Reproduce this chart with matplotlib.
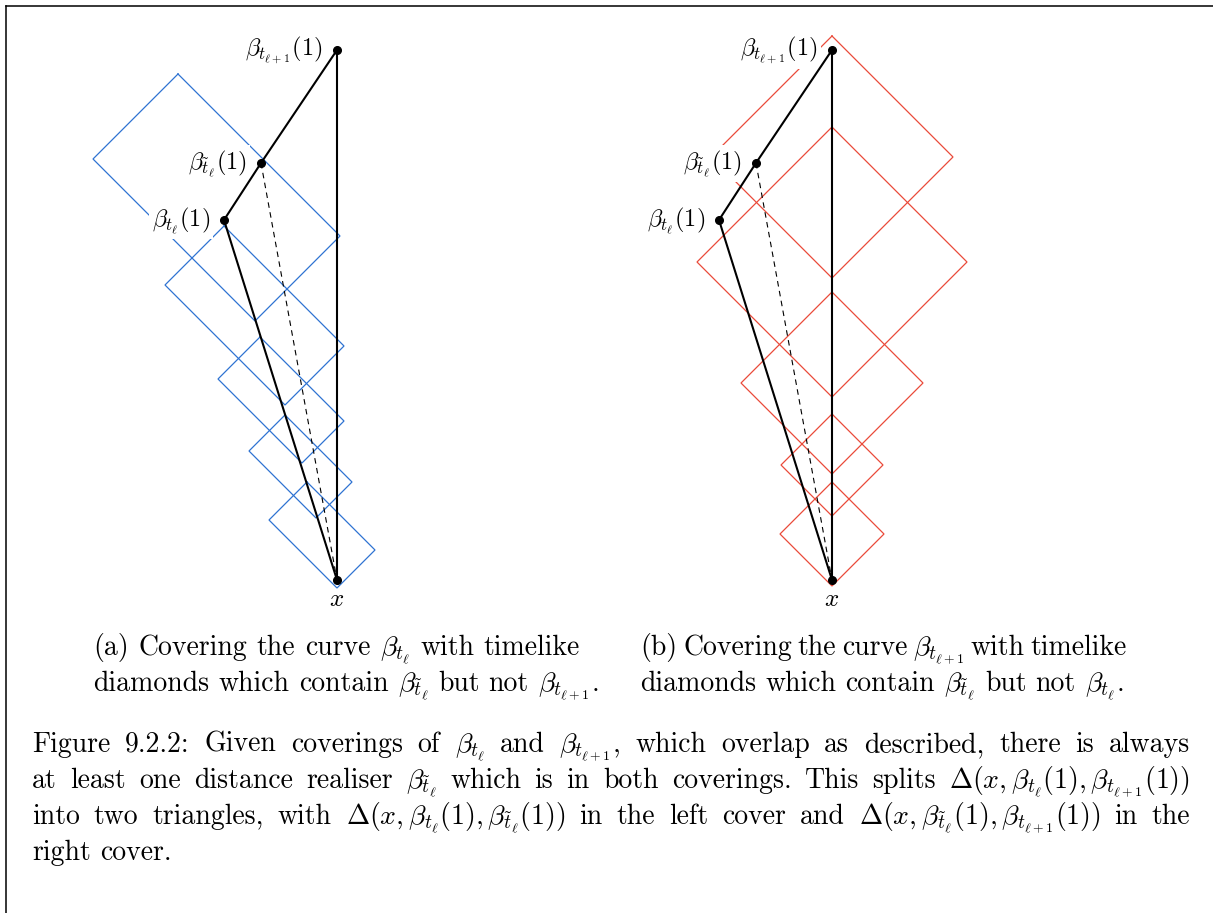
import matplotlib
matplotlib.use("Agg")
import matplotlib.pyplot as plt
from matplotlib.lines import Line2D

plt.rcParams['mathtext.fontset'] = 'cm'
plt.rcParams['font.family'] = ['cmr10', 'DejaVu Serif']
plt.rcParams['axes.formatter.use_mathtext'] = True

# ---------------- data (diagram units, relative to the point x, y upward) ----------------
point_labels = [r'$\beta_{t_{\ell+1}}(1)$', r'$\beta_{\tilde{t}_\ell}(1)$', r'$\beta_{t_\ell}(1)$']
point_dx = [0, -76, -113]
point_dy = [530, 417, 360]

# blue timelike diamonds (left panel): top vertex, extent down-left, extent down-right
blue_top_dx = [-159, -113, -77, -52, -30]
blue_top_dy = [506, 354, 243, 165, 98]
blue_left = [85, 59, 42, 36, 38]
blue_right = [162, 120, 84, 67, 68]

# red timelike diamonds (right panel): centred on the vertical curve
red_top_dy = [544, 453, 288, 166, 98]
red_half = [121, 135, 91, 51, 52]

sub_a = [r"(a) Covering the curve $\beta_{t_\ell}$ with timelike",
         r"diamonds which contain $\beta_{\tilde{t}_\ell}$ but not $\beta_{t_{\ell+1}}$."]
sub_b = [r"(b) Covering the curve $\beta_{t_{\ell+1}}$ with timelike",
         r"diamonds which contain $\beta_{\tilde{t}_\ell}$ but not $\beta_{t_\ell}$."]
caption = [
    r"Figure 9.2.2: Given coverings of $\beta_{t_\ell}$ and $\beta_{t_{\ell+1}}$, which overlap as described, there is always",
    r"at least one distance realiser $\beta_{\tilde{t}_\ell}$ which is in both coverings. This splits $\Delta(x,\beta_{t_\ell}(1),\beta_{t_{\ell+1}}(1))$",
    r"into two triangles, with $\Delta(x,\beta_{t_\ell}(1),\beta_{\tilde{t}_\ell}(1))$ in the left cover and $\Delta(x,\beta_{\tilde{t}_\ell}(1),\beta_{t_{\ell+1}}(1))$ in the",
    r"right cover.",
]

# ---------------- layout ----------------
W, H = 1213, 913
fig = plt.figure(figsize=(W / 100, H / 100), dpi=100)
ax = fig.add_axes([0, 0, 1, 1])
ax.set_xlim(0, W)
ax.set_ylim(H, 0)
ax.axis('off')

BLUE = '#2f73d2'
RED = '#ea4a3a'
origins = [(337, 580), (832, 580)]


def P(o, dx, dy):
    return o[0] + dx, o[1] - dy


def rect_poly(o, tdx, tdy, a, b):
    t = (tdx, tdy)
    r = (tdx + b, tdy - b)
    bt = (tdx + b - a, tdy - b - a)
    l = (tdx - a, tdy - a)
    pts = [t, r, bt, l, t]
    return [P(o, *p)[0] for p in pts], [P(o, *p)[1] for p in pts]


LABEL = 17.5
for k, o in enumerate(origins):
    # diamonds
    if k == 0:
        for tdx, tdy, a, b in zip(blue_top_dx, blue_top_dy, blue_left, blue_right):
            xs, ys = rect_poly(o, tdx, tdy, a, b)
            ax.plot(xs, ys, color=BLUE, lw=0.9, zorder=1, solid_joinstyle='miter')
    else:
        for tdy, h in zip(red_top_dy, red_half):
            xs, ys = rect_poly(o, 0, tdy, h, h)
            ax.plot(xs, ys, color=RED, lw=0.9, zorder=1, solid_joinstyle='miter')

    x0, y0 = o
    ptop = P(o, point_dx[0], point_dy[0])
    ptil = P(o, point_dx[1], point_dy[1])
    ptl = P(o, point_dx[2], point_dy[2])
    # curves
    ax.plot([x0, ptop[0]], [y0, ptop[1]], color='black', lw=1.5, zorder=3)
    ax.plot([ptl[0], ptil[0], ptop[0]], [ptl[1], ptil[1], ptop[1]], color='black', lw=1.5, zorder=3)
    ax.plot([ptl[0], x0], [ptl[1], y0], color='black', lw=1.5, zorder=3)
    ax.plot([ptil[0], x0], [ptil[1], y0], color='black', lw=0.8, ls=(0, (5, 4)), zorder=3)
    # points
    for p in (ptop, ptil, ptl, (x0, y0)):
        ax.plot(p[0], p[1], 'o', color='black', ms=5.5, zorder=4)
    # labels
    for lab, p in zip(point_labels, (ptop, ptil, ptl)):
        ax.text(p[0] - 14, p[1] + 6, lab, fontsize=LABEL, ha='right', va='baseline',
                zorder=2, bbox=dict(boxstyle='square,pad=0.12', fc='white', ec='none'))
    ax.text(x0, y0 + 26, r'$x$', fontsize=18, ha='center', va='baseline', zorder=4)

renderer = fig.canvas.get_renderer()


def set_line(line, xl, xr, y, size, justify):
    toks = line.split(' ')
    ts = [ax.text(0, y, t, fontsize=size, ha='left', va='baseline') for t in toks]
    ws = [t.get_window_extent(renderer).width for t in ts]
    if justify and len(toks) > 1:
        gap = (xr - xl - sum(ws)) / (len(toks) - 1)
    else:
        gap = size * 100 / 72 * 0.333
    x = xl
    for t, w in zip(ts, ws):
        t.set_x(x)
        x += w + gap


CAP = 20
SUB = 20
set_line(sub_a[0], 93, 580, 655, SUB, True)
set_line(sub_a[1], 93, 580, 691, SUB, False)
set_line(sub_b[0], 640, 1127, 655, SUB, True)
set_line(sub_b[1], 640, 1127, 691, SUB, False)
for i, line in enumerate(caption):
    set_line(line, 32, 1190, 752 + 36 * i, CAP, i < 3)

# frame
fig.add_artist(Line2D([6 / W, 6 / W], [0, 1 - 6 / H], transform=fig.transFigure, color='black', lw=1.1))
fig.add_artist(Line2D([6 / W, 1], [1 - 6 / H, 1 - 6 / H], transform=fig.transFigure, color='black', lw=1.1))

fig.savefig('out.png', dpi=100)
